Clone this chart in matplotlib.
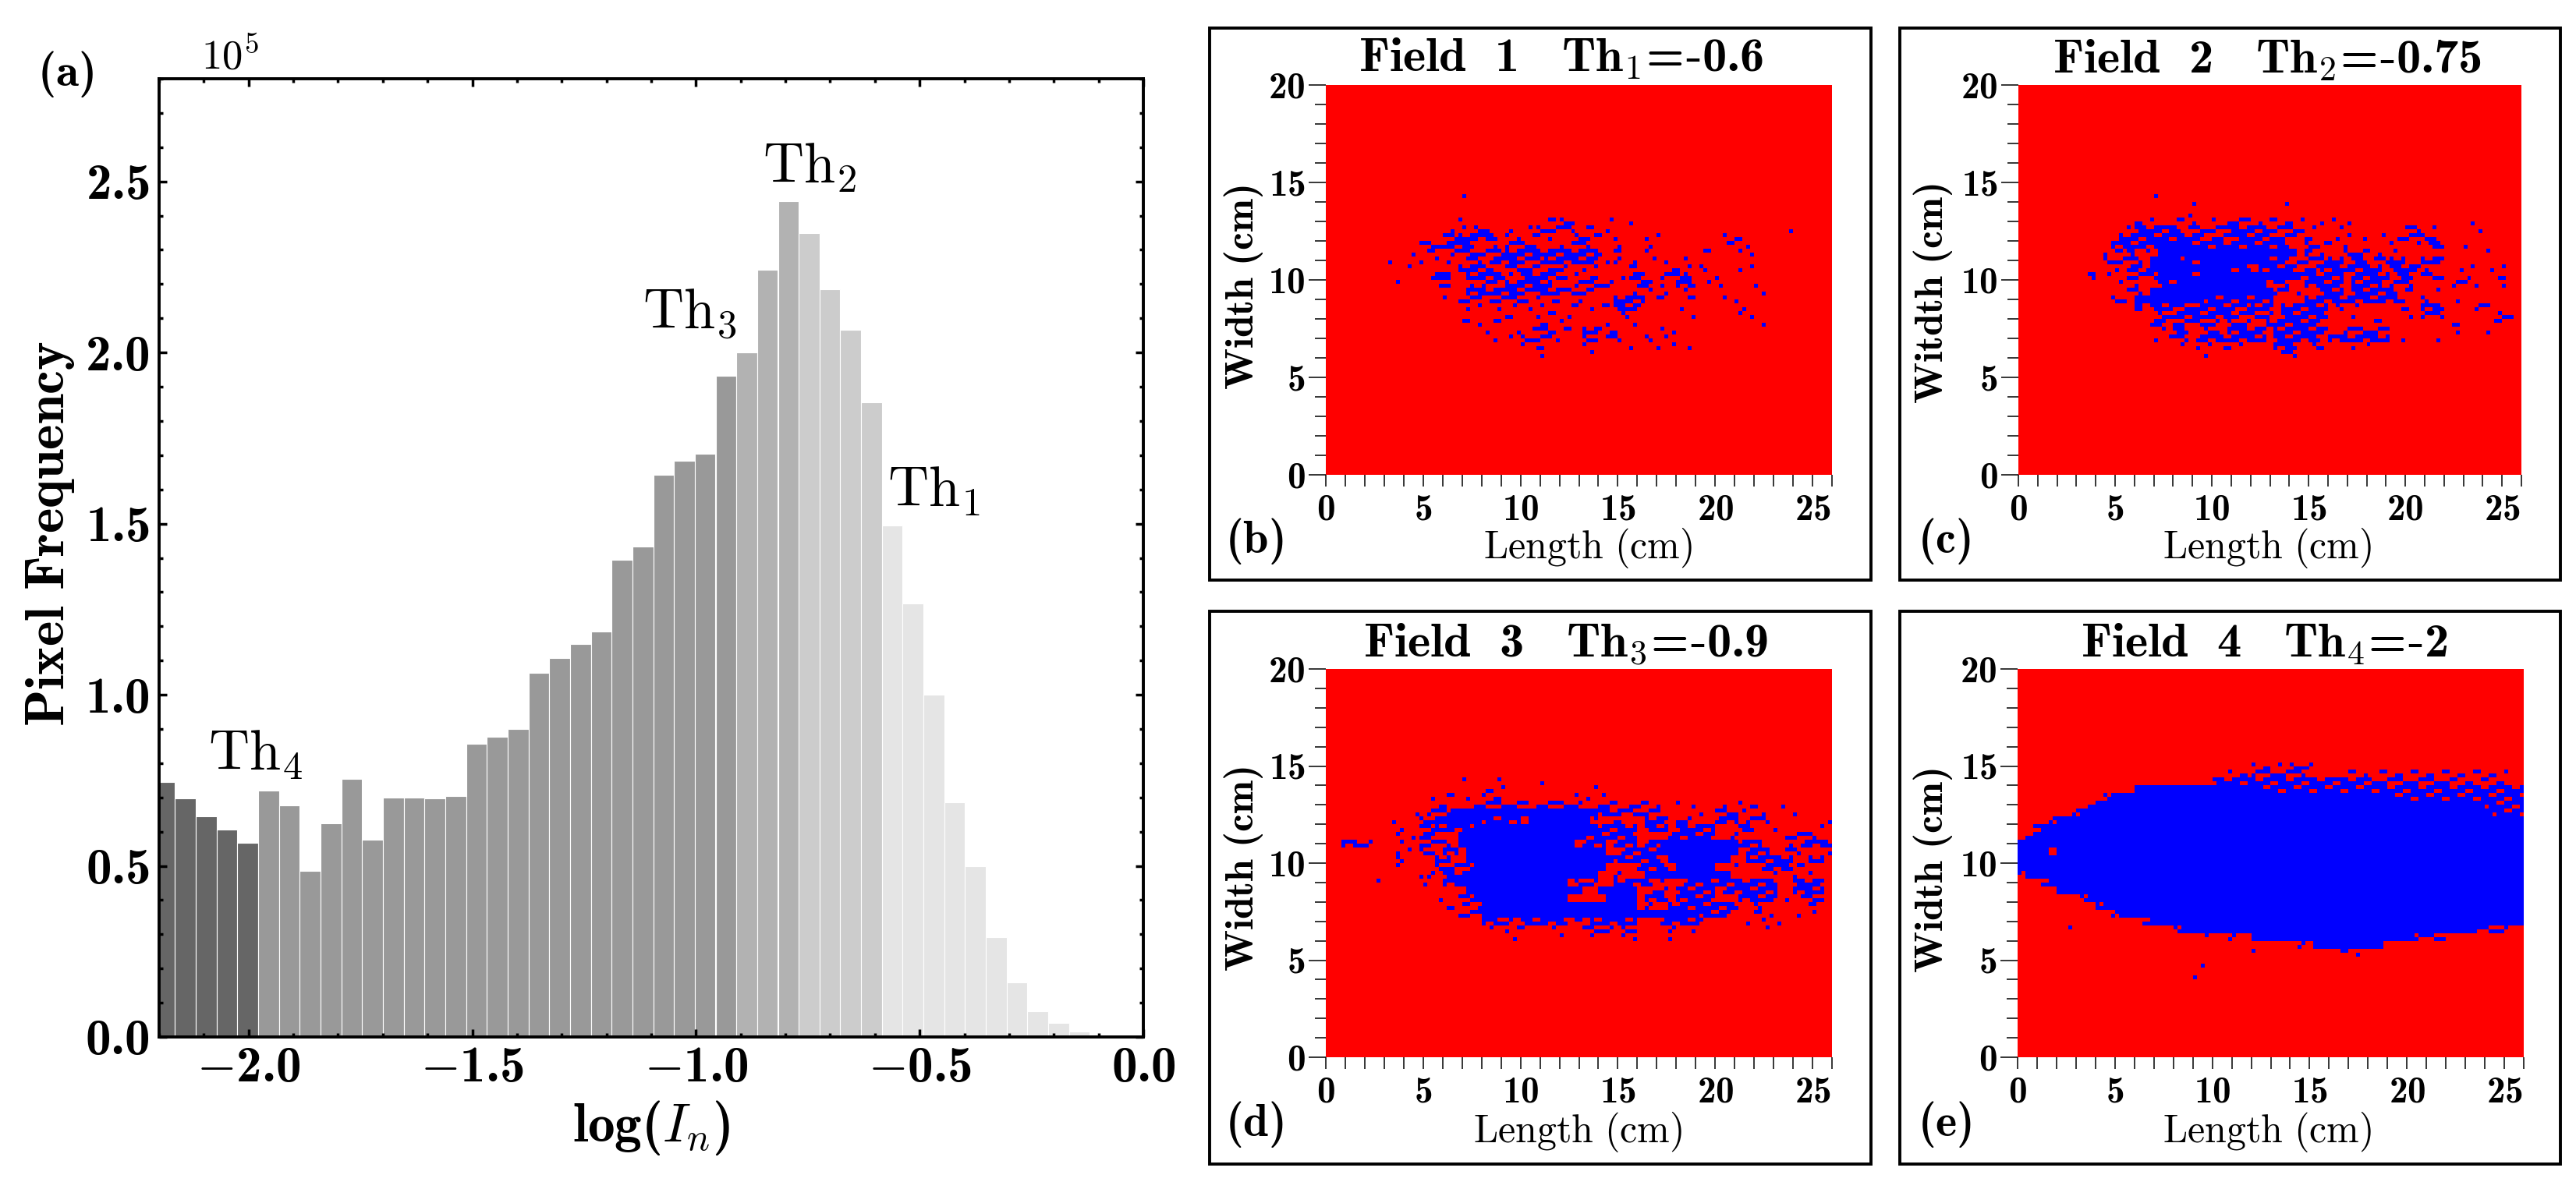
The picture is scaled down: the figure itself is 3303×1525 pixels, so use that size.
import numpy as np
import matplotlib
matplotlib.use('Agg')
from matplotlib import pyplot as plt
from matplotlib.colors import ListedColormap
from matplotlib.patches import Rectangle
from matplotlib.ticker import MultipleLocator

# custom set so that digits and brackets inside \mathbf really come out in cmb10
plt.rcParams['mathtext.fontset'] = 'custom'
plt.rcParams['mathtext.rm'] = 'cmr10'
plt.rcParams['mathtext.bf'] = 'cmb10'
plt.rcParams['mathtext.it'] = 'cmmi10'
plt.rcParams['mathtext.fallback'] = 'cm'
plt.rcParams['font.family'] = ['cmr10', 'DejaVu Sans']
plt.rcParams['axes.unicode_minus'] = False

W_PX, H_PX = 3303, 1525

# histogram, panel (a), left edge of each bin and height in units of 1e5
bin_lefts = [-2.2108, -2.1643, -2.1179, -2.0714, -2.0249, -1.9785, -1.9320, -1.8855, -1.8390,
             -1.7926, -1.7461, -1.6996, -1.6532, -1.6067, -1.5602, -1.5138, -1.4673, -1.4208,
             -1.3743, -1.3279, -1.2814, -1.2349, -1.1885, -1.1420, -1.0955, -1.0491, -1.0026,
             -0.9561, -0.9096, -0.8632, -0.8167, -0.7702, -0.7238, -0.6773, -0.6308, -0.5844,
             -0.5379, -0.4914, -0.4449, -0.3985, -0.3520, -0.3055, -0.2591, -0.2126, -0.1661]
bin_width = 0.0464
pixel_freq = [0.745, 0.697, 0.645, 0.606, 0.567, 0.721, 0.676, 0.485, 0.624, 0.754, 0.576,
              0.699, 0.699, 0.697, 0.704, 0.856, 0.877, 0.899, 1.065, 1.107, 1.148, 1.184,
              1.395, 1.434, 1.643, 1.684, 1.705, 1.932, 2.000, 2.241, 2.442, 2.349, 2.184,
              2.066, 1.854, 1.495, 1.266, 1.000, 0.685, 0.500, 0.291, 0.159, 0.075, 0.041, 0.016]
# number of bars in each grey group, darkest first
group_sizes = [5, 23, 3, 4, 10]
group_greys = ['#666666', '#999999', '#b2b2b2', '#cccccc', '#e5e5e5']

# blue cells of the fields, one string per 0.4 cm row, from high width to low.
# tokens are column or column range on a 0.4 cm grid, then how full the cell is: # % + .
rows_field1 = ['11.', '', '',
               '11. 22-23. 24-25+ 30. 33.',
               '10-11. 13+ 14+ 17. 20. 21-25+ 27-28. 30. 53.',
               '9-10+ 11-15% 17-18. 20. 21-22. 26-27+ 28. 29. 31. 35-36. 45-47.',
               '6-8+ 9-12% 15. 17-20+ 24-25. 26-27+ 31. 35. 45. 46. 48.',
               '5. 7+ 10-14+ 15-16+ 17-20% 21-25% 26-28% 29. 31+ 35. 42. 43. 47-48.',
               '2. 6. 8. 9. 12-13+ 15-18% 19-21+ 22-28% 30. 31+ 33. 36. 37. 40.',
               '4. 11-13% 14+ 15. 17-20+ 21. 22. 23-24+ 27-28. 33+ 38. 39. 40. 42+ 47. 48.',
               '7. 8-9# 12-14% 15-16% 17. 19-22% 23-24+ 26. 28+ 32. 33-34% 37-38+ 39+ 40% 44.',
               '3. 8. 9+ 12. 14-15+ 17-22% 26-29+ 30+ 34-35% 37. 39-40% 41. 43. 44. 49.',
               '12-18% 19-20+ 21-23% 24-27+ 28. 33. 35. 37. 40. 50.',
               '9. 11-13+ 15-19+ 21. 23+ 26. 31-34% 36. 37. 40. 41. 45. 46.',
               '12. 13. 16. 18. 20. 21. 25. 26. 28-29. 30. 31-33% 34. 39. 47.',
               '17+ 21. 22. 23. 25. 32+ 41. 47. 48.',
               '11. 12. 13. 15. 16. 21. 22. 24. 30. 33. 50.',
               '14. 18. 20. 21-22+ 23. 24. 25. 27-28% 29. 30-31. 37. 38.',
               '15. 17. 19-22+ 23. 27-28+ 30-31+ 35+ 37.',
               '19. 21+ 27. 33. 36. 38. 40.',
               '21. 28.']
rows_field2 = ['12.', '17. 29.', '17.',
               '10+ 12. 15. 16. 17. 20. 22-24+ 26-27. 28-31. 34. 35. 37. 53.',
               '9. 10-15% 17-18+ 19-21+ 22-26% 27-31+ 33. 36. 45-46+ 48. 54.',
               '8-13% 14-18% 20-22+ 23-26% 27-30+ 32+ 36-37. 39. 42. 44-47+ 48+',
               '7-12% 13-16# 17-20% 21-29% 32-33+ 34-35. 37. 43. 46. 48-49% 52.',
               '6-8. 9% 11. 13-20# 21-30# 32% 34. 37-39+ 40-41. 43. 55.',
               '6-8+ 9-10+ 12-15# 16-18% 19-26# 27-29% 31-34+ 35-36% 38-39% 41-42+ 43-44% 47-49%',
               '7. 9-10% 11. 12-18# 19-21# 22-24% 26-30% 32-33+ 34-36% 37-41% 43% 44-46% 47. 52. 53. 56. 57.',
               '4% 6. 9-12+ 13-16# 17-18% 19-30# 31-36% 38-42% 44-45% 47-49+ 53. 57+',
               '8. 10. 13-16% 16-26# 28-29+ 32-36% 38-41% 43-45+ 51-52+ 54. 57.',
               '9-10+ 12-19# 20-27# 28-29+ 31. 34-36% 38-43% 45+ 49.',
               '7-8+ 10# 11-18# 19-21% 22-27% 32-35% 36-43% 44+ 47+ 51.',
               '10# 12-14% 15-17+ 18-22% 23-25+ 25-27% 29-34% 36+ 38. 44-45. 47-49% 54-55+',
               '13-14+ 15-17% 18-22% 23-27+ 29-34% 38. 45. 47-49+ 57-58+',
               '12-13% 15-17+ 18-20+ 22-24+ 27-33% 41+ 51+ 56. 57.',
               '13. 15-16% 19-20+ 22-26% 28-34% 37-38+ 39-42+ 51. 55.',
               '12. 14. 15-16+ 18-21% 22-26% 28-33% 35-37% 38-42% 44. 49.',
               '16. 18-19. 21-23. 28-30% 33+ 34. 38. 40.',
               '19. 29-30+']
rows_field3 = ['17. 22. 27.',
               '20-21. 22. 34.',
               '13. 15-16. 18. 20. 21-22. 32. 33. 35.',
               '14-15. 19-24+ 25+ 27-32+ 35-36+ 37. 39-40+ 41. 42. 45. 47. 51. 53-55. 58.',
               '11. 13-15+ 16-34# 35-37% 38-40+ 41-42+ 48. 50-52+ 53. 56. 60.',
               '8. 12-14+ 14-19# 20-24% 26-33# 34. 37+ 41-43% 45-46+ 50-52% 54-56+ 64.',
               '9. 12-13+ 14-18% 19-34# 35-39% 41-43% 45-49% 53-54% 57. 63.',
               '9. 11. 12-13% 17-32# 33-39% 44-49% 52+ 59-62+',
               '2-3% 4-5+ 9. 12-15+ 17-31# 33-35% 37-39% 41-42% 43-52# 53-55% 59. 61-64%',
               '9-10. 12-13+ 15-16% 18-35# 38-42% 43-52# 54-56% 59-60+ 64.',
               '9+ 14-15% 18-36# 37-42% 44-51# 54-59% 62-63%',
               '9. 14-15+ 16-18+ 19-35# 40-43% 45-49# 52. 56-59% 60. 61.',
               '12. 13+ 15-17% 18-34# 37+ 41-51# 57. 60. 62.',
               '6. 12. 15-17% 17-30# 32-34+ 37-41% 43. 46-51% 52-57% 60-63%',
               '18-32# 35-39# 42-43+ 45-49% 51-57% 60-63%',
               '14. 17-18+ 19-30# 36-39# 41-43% 45-49% 53-57% 59. 61-63+',
               '15-17. 18-19. 20-39# 41+ 44-52% 55+ 62+',
               '17-19+ 20-47# 48-51% 55+ 57. 60. 62.',
               '20-21% 22-23+ 25-30% 32+ 34-39% 43-47% 48. 54. 56. 58.',
               '21. 23-25. 29. 33-36+ 38-39+ 44+ 47. 56.',
               '24. 30. 34. 38. 39. 44.']
rows_field4 = ['30-33. 35-37+',
               '27-30. 30-36+ 42-44. 46-62.',
               '25-28% 29-37% 38-44% 45-55+ 56-62.',
               '15-30# 31-44% 45-64%',
               '11+ 12-47# 48-58% 59-64%',
               '9+ 10-59# 60-64%',
               '7+ 8-60# 61-64%',
               '4+ 5-64#', '2+ 3-64#', '1+ 2-64#', '0-64#',
               '0-3# 5-64#',
               '0-64#', '0-64#',
               '0. 1-64#', '3+ 4-64#', '5-64#', '8+ 9-64#', '10% 11-64#', '12+ 13-64#', '16+ 17-64#',
               '6. 20+ 21-58# 59-62+', '24. 27+ 30-50# 51-54+', '36+ 38-46#', '30. 41-43.', '', '23.', '22.']

field_cols = [6, 5, 0, 0]
field_rows = [rows_field1, rows_field2, rows_field3, rows_field4]
field_top_row = [14.0, 14.0, 14.0, 14.8]
field_titles = [r'$\mathbf{Field\ \ 1\quad Th}_1\!\mathbf{=}\!\text{-}\mathbf{0.6}$',
                r'$\mathbf{Field\ \ 2\quad Th}_2\!\mathbf{=}\!\text{-}\mathbf{0.75}$',
                r'$\mathbf{Field\ \ 3\quad Th}_3\!\mathbf{=}\!\text{-}\mathbf{0.9}$',
                r'$\mathbf{Field\ \ 4\quad Th}_4\!\mathbf{=}\!\text{-}\mathbf{2}$']
field_ylabels = ['Width (cm)', 'Witdth (cm)', 'Width (cm)', 'Width (cm)']
field_letters = ['(b)', '(c)', '(d)', '(e)']
th_labels = [r'$\mathrm{Th}_4$', r'$\mathrm{Th}_3$', r'$\mathrm{Th}_2$', r'$\mathrm{Th}_1$']
th_x = [-2.09, -1.119, -0.85, -0.571]
th_y = [0.78, 2.069, 2.495, 1.549]


def bold(s):
    return r'$\mathbf{' + s.replace(' ', r'\ ') + '}$'


def build_mask(rows, top, col_shift):
    mask = np.zeros((100, 130), dtype=int)
    for r, row in enumerate(rows):
        j = int(round((top - 0.4 * r) / 0.2))
        for tok in row.split():
            kind = tok[-1]
            ends = tok[:-1].split('-')
            c0, c1 = int(ends[0]), int(ends[-1])
            for c in range(c0 + col_shift, c1 + col_shift + 1):
                i = 2 * c
                if i >= 130:
                    continue
                sub = [(0, 0), (0, 1), (1, 0), (1, 1)]
                # which sub cell stays empty moves along the row, so no visible weave
                turn = (3 * c + 5 * r) % 4
                sub = sub[turn:] + sub[:turn]
                count = {'#': 4, '%': 3, '+': 2, '.': 1}[kind]
                for dj, di in sub[:count]:
                    mask[j + dj, i + di] = 1
    return mask


def axes_px(fig, left, top, right, bottom):
    return fig.add_axes([left / W_PX, 1 - bottom / H_PX, (right - left) / W_PX, (bottom - top) / H_PX])


def text_px(fig, x, y, s, **kw):
    fig.text(x / W_PX, 1 - y / H_PX, s, va=kw.pop('va', 'baseline'), **kw)


fig = plt.figure(figsize=(W_PX / 100, H_PX / 100), dpi=100)

# panel (a)
ax = axes_px(fig, 204, 101, 1466, 1330)
bar_colors = []
for n, grey in zip(group_sizes, group_greys):
    bar_colors += [grey] * n
ax.bar(bin_lefts, pixel_freq, width=bin_width, align='edge', color=bar_colors, edgecolor='white', linewidth=0.8)
ax.set_xlim(-2.2, 0)
ax.set_ylim(0, 2.8)
ax.set_xticks([-2.0, -1.5, -1.0, -0.5, 0.0])
ax.set_xticklabels([r'$\mathbf{-2.0}$', r'$\mathbf{-1.5}$', r'$\mathbf{-1.0}$', r'$\mathbf{-0.5}$', r'$\mathbf{0.0}$'])
ax.set_yticks([0, 0.5, 1.0, 1.5, 2.0, 2.5])
ax.set_yticklabels([bold(s) for s in ['0.0', '0.5', '1.0', '1.5', '2.0', '2.5']])
ax.xaxis.set_minor_locator(MultipleLocator(0.1))
ax.yaxis.set_minor_locator(MultipleLocator(0.1))
ax.tick_params(which='major', direction='in', top=True, right=True, length=7, width=2.5, labelsize=47, pad=9)
ax.tick_params(which='minor', direction='in', top=True, right=True, length=3.5, width=2.5)
for sp in ax.spines.values():
    sp.set_linewidth(2.8)
for lab, x, y in zip(th_labels, th_x, th_y):
    ax.text(x, y, lab, fontsize=52, va='baseline')
text_px(fig, 258, 89, r'$\mathrm{10}^{5}$', fontsize=38)
text_px(fig, 48, 110, bold('(a)'), fontsize=43)
text_px(fig, 65, 685, bold('Pixel Frequency'), fontsize=50, rotation=90, ha='center', va='center')
text_px(fig, 835, 1464, r'$\mathbf{log(}\mathit{I}_n\mathbf{)}$', fontsize=50, ha='center')

# panels (b)-(e): frame, then axes
frames = [(1551, 36, 2399, 744), (2436, 36, 3283, 744), (1551, 784, 2399, 1493), (2436, 784, 3283, 1493)]
boxes = [(1700, 109, 2349, 609), (2588, 109, 3233, 609), (1700, 858, 2349, 1356), (2587, 858, 3236, 1356)]
title_pos = [(2002, 91), (2907, 93), (2008, 842), (2903, 842)]
xlabel_pos = [(2036, 716), (2907, 716), (2023, 1465), (2907, 1465)]
ylabel_pos = [(1594, 369), (2479, 377), (1594, 1115), (2479, 1117)]
letter_pos = [(1571, 709), (2459, 709), (1571, 1457), (2459, 1457)]

for k in range(4):
    l, t, r, b = frames[k]
    fig.add_artist(Rectangle((l / W_PX, 1 - b / H_PX), (r - l) / W_PX, (b - t) / H_PX, transform=fig.transFigure,
                             fill=False, edgecolor='black', linewidth=2.8))
    fa = axes_px(fig, *boxes[k])
    mask = build_mask(field_rows[k], field_top_row[k], field_cols[k])
    fa.imshow(mask, origin='lower', extent=(0, 26, 0, 20), aspect='auto', interpolation='nearest',
              cmap=ListedColormap(['#ff0000', '#0000ff']), vmin=0, vmax=1)
    fa.set_xticks([0, 5, 10, 15, 20, 25])
    fa.set_xticklabels([bold(str(v)) for v in [0, 5, 10, 15, 20, 25]])
    fa.set_yticks([0, 5, 10, 15, 20])
    fa.set_yticklabels([bold(str(v)) for v in [0, 5, 10, 15, 20]])
    fa.xaxis.set_minor_locator(MultipleLocator(1))
    fa.yaxis.set_minor_locator(MultipleLocator(1))
    fa.tick_params(axis='x', which='both', direction='out', length=11, width=1.1, labelsize=34, pad=7)
    fa.tick_params(axis='y', which='major', direction='out', length=16, width=1.1, labelsize=34, pad=3)
    fa.tick_params(axis='y', which='minor', direction='out', length=10, width=1.1)
    for sp in fa.spines.values():
        sp.set_visible(False)
    text_px(fig, title_pos[k][0], title_pos[k][1], field_titles[k], fontsize=45, ha='center')
    text_px(fig, xlabel_pos[k][0], xlabel_pos[k][1], r'$\mathrm{Length\ (cm)}$', fontsize=36, ha='center')
    text_px(fig, ylabel_pos[k][0], ylabel_pos[k][1], bold(field_ylabels[k]), fontsize=37, rotation=90,
            ha='center', va='center')
    text_px(fig, letter_pos[k][0], letter_pos[k][1], bold(field_letters[k]), fontsize=42)

fig.savefig('out.png', dpi=100)
